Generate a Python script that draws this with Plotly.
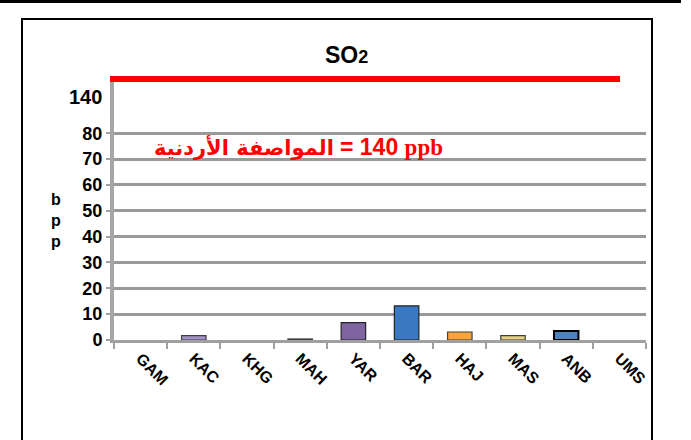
import plotly.graph_objects as go

stations = ["GAM", "KAC", "KHG", "MAH", "YAR", "BAR", "HAJ", "MAS", "ANB", "UMS"]
so2_ppb = [0, 1.7, 0, 0.4, 6.7, 13.2, 3.1, 1.7, 3.5, 0]
bar_colors = ["#a393c9", "#a393c9", "#a393c9", "#8c8c8c", "#8064a2", "#3a78c2",
              "#f9a33b", "#e6cf82", "#4f81bd", "#4f81bd"]
bar_lines = ["#404040", "#404040", "#404040", "#404040", "#222222", "#222222",
             "#404040", "#404040", "#000000", "#000000"]

tick_vals = [0, 10, 20, 30, 40, 50, 60, 70, 80]
tick_text = ["0", "10", "20", "30", "40", "50", "60", "70", "80"]
top_tick_pos = 94
top_tick_text = "140"
standard_ppb = 140
standard_arabic = "المواصفة الأردنية"
standard_value = ("= <span style='font-family:Liberation Sans'>140</span> "
                  "<span style='font-family:Liberation Serif'>ppb</span>")

W, H = 691, 440
L, R, T, B = 114, 45, 79, 100
pw = W - L - R
ph = H - T - B

def px_x(p):
    return (p - L) / pw

def px_y(p):
    return (H - B - p) / ph

line_w = [0 if v == 0 else (2 if c == "#000000" else 1.2) for v, c in zip(so2_ppb, bar_lines)]

fig = go.Figure()
fig.add_trace(go.Bar(
    x=stations, y=so2_ppb, width=0.46,
    marker=dict(color=bar_colors, line=dict(color=bar_lines, width=line_w)),
    showlegend=False,
))

fig.update_layout(
    width=W, height=H,
    margin=dict(l=L, r=R, t=T, b=B, pad=0),
    paper_bgcolor="white", plot_bgcolor="white",
    font=dict(family="Liberation Sans", color="black"),
    xaxis=dict(
        showline=True, linecolor="#a0a0a0", linewidth=3,
        ticks="outside", ticklen=6, tickcolor="#a0a0a0", tickwidth=2,
        tickson="boundaries", tickangle=45,
        tickfont=dict(size=16, family="Liberation Sans", color="black", weight="bold"),
        showgrid=False,
    ),
    yaxis=dict(
        range=[0, 101],
        tickvals=tick_vals, ticktext=tick_text,
        showline=True, linecolor="#a6a6a6", linewidth=4,
        ticks="outside", ticklen=4, tickcolor="#a0a0a0", tickwidth=2,
        showgrid=True, gridcolor="#999999", gridwidth=3,
        tickfont=dict(size=18, family="Liberation Sans", color="black", weight="bold"),
        zeroline=False,
    ),
)

# broken-axis top label (140)
fig.add_annotation(text=top_tick_text, xref="paper", yref="y", x=0, y=top_tick_pos,
                   xanchor="right", yanchor="middle", xshift=-10, showarrow=False,
                   font=dict(size=20, family="Liberation Sans", color="black", weight="bold"))

# standard line (140 ppb) drawn at the top of the broken axis
fig.add_shape(type="line", xref="paper", yref="paper",
              x0=px_x(110), x1=px_x(620), y0=1.0, y1=1.0,
              line=dict(color="#ff0000", width=6))

# frame
fig.add_shape(type="rect", xref="paper", yref="paper",
              x0=px_x(22), x1=px_x(652), y0=px_y(19), y1=px_y(450),
              line=dict(color="black", width=2), fillcolor="rgba(0,0,0,0)")
fig.add_shape(type="line", xref="paper", yref="paper",
              x0=px_x(-5), x1=px_x(681), y0=px_y(1.5), y1=px_y(1.5),
              line=dict(color="black", width=3))

fig.add_annotation(text="SO<span style='font-size:18px'>2</span>", xref="paper", yref="paper",
                   x=px_x(346), y=px_y(55), xanchor="center", yanchor="middle", showarrow=False,
                   font=dict(size=23, family="Liberation Sans", color="black", weight="bold"))

fig.add_annotation(text=standard_arabic, xref="paper", yref="paper",
                   x=px_x(336), y=px_y(147), xanchor="right", yanchor="middle", showarrow=False,
                   font=dict(size=21, family="DejaVu Sans", color="#ff0000", weight="bold"))
fig.add_annotation(text=standard_value, xref="paper", yref="paper",
                   x=px_x(338), y=px_y(147), xanchor="left", yanchor="middle", showarrow=False,
                   font=dict(size=23, family="Liberation Sans", color="#ff0000", weight="bold"))

fig.add_annotation(text="b<br>p<br>p", xref="paper", yref="paper",
                   x=px_x(56), y=px_y(220), xanchor="center", yanchor="middle", showarrow=False,
                   font=dict(size=16, family="Liberation Sans", color="black", weight="bold"))

fig.write_html("out.html", config={"displayModeBar": False},
               post_script="document.body.style.margin='0';")
